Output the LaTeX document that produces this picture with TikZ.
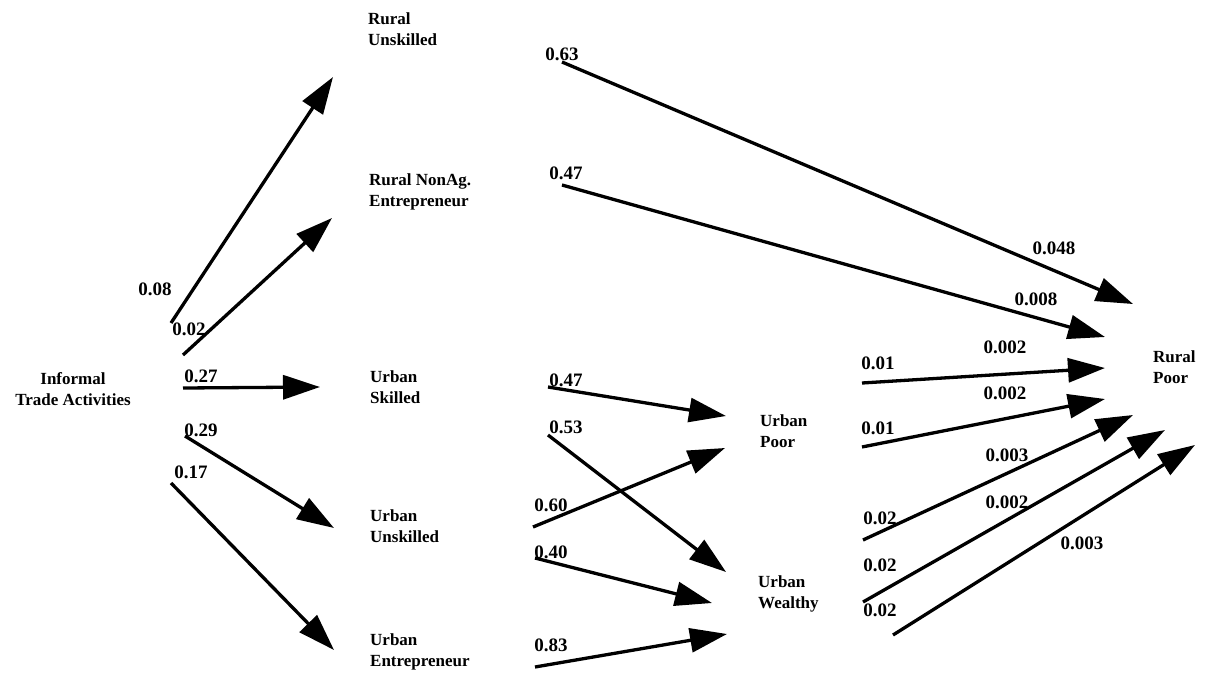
\documentclass[tikz,border=0pt]{standalone}
\usepackage{fontspec}
\setmainfont{Liberation Serif}
\usetikzlibrary{arrows.meta}
\begin{document}
\begin{tikzpicture}[x=1pt,y=-1pt,
  flow/.style={line width=3.3pt, -{Triangle[length=37pt,width=24pt]}},
  cat/.style={inner sep=0pt, anchor=west, align=left, font=\fontsize{17}{21}\selectfont\bfseries},
  wt/.style={inner sep=0pt, font=\fontsize{19}{19}\selectfont\bfseries}]
\fill[white] (0,0) rectangle (1205,675);
\useasboundingbox (0,0) rectangle (1205,675);

% categories
\node[cat, anchor=center, align=center] (inf) at (73,389) {Informal\\Trade Activities};
\node[cat] (ru)  at (368,29.5) {Rural\\Unskilled};
\node[cat] (rne) at (369,192) {Rural NonAg.\\Entrepreneur};
\node[cat] (us)  at (370,387) {Urban\\Skilled};
\node[cat] (uu)  at (370,526.5) {Urban\\Unskilled};
\node[cat] (ue)  at (370,652) {Urban\\Entrepreneur};
\node[cat] (up)  at (760,431) {Urban\\Poor};
\node[cat] (uw)  at (758,593.5) {Urban\\Wealthy};
\node[cat] (rp)  at (1153,367.5) {Rural\\Poor};

% arrow end points
\coordinate (a1s) at (171,323);  \coordinate (a1e) at (333,77);
\coordinate (a2s) at (183,355);  \coordinate (a2e) at (332,218);
\coordinate (a3s) at (183,388);  \coordinate (a3e) at (320,387);
\coordinate (a4s) at (185,436);  \coordinate (a4e) at (334,528);
\coordinate (a5s) at (171,483);  \coordinate (a5e) at (334,650);
\coordinate (a6s) at (562,62);   \coordinate (a6e) at (1133,304);
\coordinate (a7s) at (562,185);  \coordinate (a7e) at (1105,337);
\coordinate (a8s) at (548,387);  \coordinate (a8e) at (726,416);
\coordinate (a9s) at (548,435);  \coordinate (a9e) at (726,572);
\coordinate (a10s) at (533,527); \coordinate (a10e) at (725,448);
\coordinate (a11s) at (535,558); \coordinate (a11e) at (712,603);
\coordinate (a12s) at (535,667); \coordinate (a12e) at (727,634);
\coordinate (a13s) at (862,383); \coordinate (a13e) at (1105,368);
\coordinate (a14s) at (862,447); \coordinate (a14e) at (1105,399);
\coordinate (a15s) at (863,540); \coordinate (a15e) at (1133,415);
\coordinate (a16s) at (863,602); \coordinate (a16e) at (1165,430);
\coordinate (a17s) at (893,635); \coordinate (a17e) at (1195,445);

\foreach \i in {1,...,17} \draw[flow] (a\i s) -- (a\i e);

% weights
\node[wt] (w1)  at (155,289) {0.08};
\node[wt] (w2)  at (189,329) {0.02};
\node[wt] (w3)  at (201,376) {0.27};
\node[wt] (w4)  at (201,430) {0.29};
\node[wt] (w5)  at (191,472) {0.17};
\node[wt] (w6)  at (562,54)  {0.63};
\node[wt] (w7)  at (566,173) {0.47};
\node[wt] (w8)  at (566,380) {0.47};
\node[wt] (w9)  at (566,427) {0.53};
\node[wt] (w10) at (551,505) {0.60};
\node[wt] (w11) at (551,552) {0.40};
\node[wt] (w12) at (551,645) {0.83};
\node[wt] (w13) at (1054,248) {0.048};
\node[wt] (w14) at (1036,299) {0.008};
\node[wt] (w15) at (878,363) {0.01};
\node[wt] (w16) at (1005,347) {0.002};
\node[wt] (w17) at (878,428) {0.01};
\node[wt] (w18) at (1005,393) {0.002};
\node[wt] (w19) at (880,518) {0.02};
\node[wt] (w20) at (1007,455) {0.003};
\node[wt] (w21) at (880,565) {0.02};
\node[wt] (w22) at (1007,502) {0.002};
\node[wt] (w23) at (880,610) {0.02};
\node[wt] (w24) at (1082,543) {0.003};
\end{tikzpicture}
\end{document}
